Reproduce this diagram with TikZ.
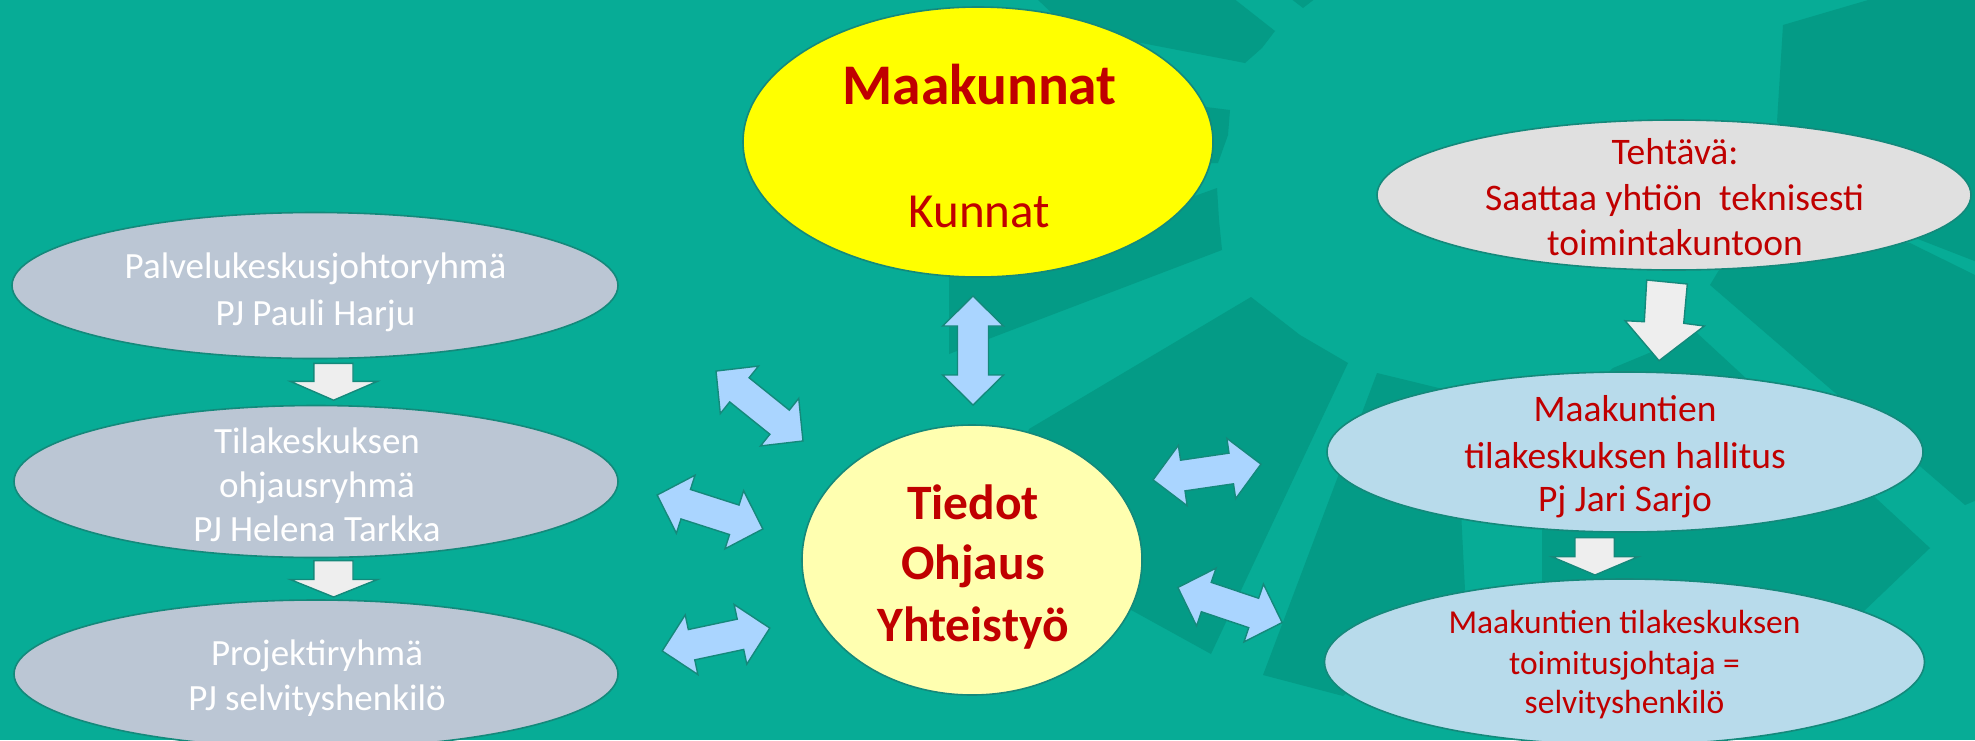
\documentclass[tikz,border=0pt]{standalone}
\usepackage{fontspec}
\setmainfont{Carlito}
\usetikzlibrary{shapes.geometric}
\definecolor{bgteal}{HTML}{07AC96}
\definecolor{darkteal}{HTML}{049B86}
\definecolor{edgeteal}{HTML}{14897B}
\definecolor{grayell}{HTML}{BBC6D4}
\definecolor{lightgray}{HTML}{E0E0E0}
\definecolor{blueell}{HTML}{B8DBEB}
\definecolor{yell}{HTML}{FFFF00}
\definecolor{lyell}{HTML}{FFFFB0}
\definecolor{arrowblue}{HTML}{AAD5FF}
\definecolor{arrowwhite}{HTML}{EEEEEE}
\definecolor{redtxt}{HTML}{C00000}
\newcommand\dblarr[4]{% cx, cy, screen angle, half length
  \begin{scope}[shift={(#1,#2)},rotate={-(#3)}]
    \draw[barrow] (-#4,0) -- (-#4+30,-30.5) -- (-#4+30,-15.5) -- (#4-30,-15.5) -- (#4-30,-30.5) -- (#4,0)
      -- (#4-30,30.5) -- (#4-30,15.5) -- (-#4+30,15.5) -- (-#4+30,30.5) -- cycle;
  \end{scope}}
\begin{document}
\begin{tikzpicture}[x=1pt,y=-1pt,
  ell/.style={ellipse, draw=edgeteal, line width=1.6pt, inner sep=0pt},
  wtxt/.style={text=white, inner sep=0pt, anchor=base, font=\fontsize{37}{44}\selectfont},
  rtxt/.style={text=redtxt, inner sep=0pt, anchor=base, font=\fontsize{37.5}{45}\selectfont},
  stxt/.style={text=redtxt, inner sep=0pt, anchor=base, font=\fontsize{33.5}{40}\selectfont},
  btxt/.style={text=redtxt, inner sep=0pt, anchor=base, font=\bfseries\fontsize{49.5}{60}\selectfont},
  tooth/.style={fill=darkteal},
  barrow/.style={fill=arrowblue, draw=edgeteal, line width=1.4pt, line join=miter},
  warrow/.style={fill=arrowwhite, draw=edgeteal, line width=1.4pt, line join=miter}]
\useasboundingbox (0,0) rectangle (1975,740);
\fill[bgteal] (0,0) rectangle (1975,740);
% background gear teeth
\fill[tooth] (1036,-2) -- (1233,-2) -- (1275,31) -- (1262,48) -- (1245,63) -- (1126,40) -- (1080,40) -- cycle;
\fill[tooth] (1290,-2) -- (1316,-2) -- (1303,8) -- cycle;
\fill[tooth] (1150,100) -- (1230,110) -- (1228,135) -- (1218,163) -- (1150,163) -- cycle;
\fill[tooth] (949,270) -- (1100,230) -- (1217,188) -- (1219,220) -- (1222,250) -- (949,354) -- cycle;
\fill[tooth] (1029,429) -- (1251,297) -- (1300,335) -- (1348,363) -- (1211,654) -- (1133,611) -- (990,540) -- cycle;
\fill[tooth] (1377,373) -- (1410,381) -- (1455,392) -- (1465,590) -- (1343,696) -- (1263,675) -- cycle;
\fill[tooth] (1710,285) -- (1740,235) -- (1910,243) -- (1977,276) -- (1977,500) -- (1965,505) -- cycle;
\fill[tooth] (1783,25) -- (1875,-2) -- (1977,-2) -- (1977,262) -- (1905,234) -- (1777,122) -- cycle;
\fill[tooth] (1613,368) -- (1697,333) -- (1930,548) -- (1863,612) -- (1700,640) -- (1542,600) -- (1542,420) -- (1600,380) -- cycle;
% ellipses
\node[ell, fill=grayell, minimum width=606pt, minimum height=146pt] (palv) at (315,285.5) {};
\node[ell, fill=grayell, minimum width=604pt, minimum height=152pt] (tila) at (316,481.5) {};
\node[ell, fill=grayell, minimum width=604pt, minimum height=148pt] (proj) at (316,674) {};
\node[ell, fill=yell, minimum width=470pt, minimum height=270pt] (maak) at (978,142) {};
\node[ell, fill=lyell, minimum width=340pt, minimum height=270pt] (tied) at (972,560) {};
\node[ell, fill=lightgray, minimum width=594pt, minimum height=150pt] (teht) at (1674,195) {};
\node[ell, fill=blueell, minimum width=596pt, minimum height=160pt] (hall) at (1625,452) {};
\node[ell, fill=blueell, minimum width=600pt, minimum height=166pt] (toim) at (1624.5,662) {};
% texts
\node[wtxt] (palv1) at (315.5,278.4) {Palvelukeskusjohtoryhmä};
\node[wtxt] (palv2) at (315.5,325.6) {PJ Pauli Harju};
\node[wtxt] (tila1) at (317,453) {Tilakeskuksen};
\node[wtxt] (tila2) at (317,497.5) {ohjausryhmä};
\node[wtxt] (tila3) at (317,541.8) {PJ Helena Tarkka};
\node[wtxt] (proj1) at (317,665.4) {Projektiryhmä};
\node[wtxt] (proj2) at (317,710.2) {PJ selvityshenkilö};
\node[btxt, font=\bfseries\fontsize{57.5}{66}\selectfont] (maak1) at (979.5,104.8) {Maakunnat};
\node[btxt, font=\fontsize{49}{58}\selectfont] (maak2) at (979.3,227.5) {Kunnat};
\node[btxt] (tied1) at (973,519) {Tiedot};
\node[btxt] (tied2) at (973,579.5) {Ohjaus};
\node[btxt] (tied3) at (973,641) {Yhteistyö};
\node[rtxt] (teht1) at (1675,164.3) {Tehtävä:};
\node[rtxt] (teht2) at (1674.5,210.7) {Saattaa yhtiön~ teknisesti};
\node[rtxt] (teht3) at (1675,255) {toimintakuntoon};
\node[rtxt] (hall1) at (1625,421.7) {Maakuntien};
\node[rtxt] (hall2) at (1625,468.3) {tilakeskuksen hallitus};
\node[rtxt] (hall3) at (1625,511.7) {Pj Jari Sarjo};
\node[stxt] (toim1) at (1624.5,633.3) {Maakuntien tilakeskuksen};
\node[stxt] (toim2) at (1624.5,674) {toimitusjohtaja =};
\node[stxt] (toim3) at (1624.5,713.3) {selvityshenkilö};
% white flow arrows
\draw[warrow] (313.8,363.4) -- (353,363.4) -- (353,381.3) -- (377.5,381.3) -- (333.6,400.2) -- (290.2,381.3) -- (313.8,381.3) -- cycle;
\draw[warrow] (313.8,560.6) -- (353,560.6) -- (353,579.5) -- (377.5,579.5) -- (333.6,597) -- (290.2,579.5) -- (313.8,579.5) -- cycle;
\draw[warrow] (1646.7,280) -- (1687.3,284) -- (1683.7,323.3) -- (1704.3,326) -- (1659,360.7) -- (1625,320.7) -- (1644.3,321.7) -- cycle;
\draw[warrow] (1575,537.7) -- (1614.3,537.7) -- (1614.3,556.7) -- (1638.3,556.7) -- (1595,575) -- (1551.7,556.7) -- (1575,556.7) -- cycle;
% blue double arrows
\dblarr{973}{350.5}{90}{54.5}
\dblarr{759.5}{406}{38.8}{55.8}
\dblarr{710}{512}{17.8}{55.5}
\dblarr{716}{639.5}{-12}{55}
\dblarr{1207}{472}{-8.3}{54.5}
\dblarr{1230}{605}{18.6}{55}
\end{tikzpicture}
\end{document}
